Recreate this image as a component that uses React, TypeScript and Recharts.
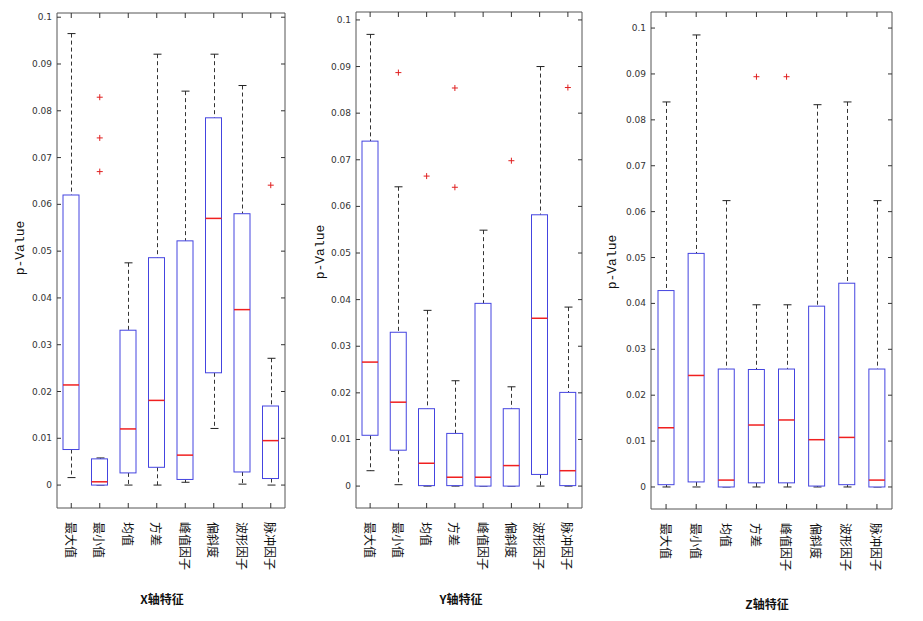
import { ComposedChart, Bar, Scatter, XAxis, YAxis, ReferenceArea } from "recharts"

const categories = ["最大值", "最小值", "均值", "方差", "峰值因子", "偏斜度", "波形因子", "脉冲因子"]
const yTicks = [0, 0.01, 0.02, 0.03, 0.04, 0.05, 0.06, 0.07, 0.08, 0.09, 0.1]

// X轴
const xLow = [0.0016, 0, 0, 0, 0.0006, 0.0121, 0.0002, 0]
const xQ1 = [0.0076, 0, 0.0026, 0.0038, 0.0012, 0.024, 0.0028, 0.0014]
const xMed = [0.0214, 0.0007, 0.012, 0.0181, 0.0064, 0.057, 0.0375, 0.0095]
const xQ3 = [0.062, 0.0056, 0.0331, 0.0486, 0.0522, 0.0785, 0.058, 0.0169]
const xHigh = [0.0965, 0.0058, 0.0475, 0.0921, 0.0842, 0.0921, 0.0854, 0.0271]
const xOutCat = ["最小值", "最小值", "最小值", "脉冲因子"]
const xOutVal = [0.0829, 0.0742, 0.067, 0.0641]

// Y轴
const yLow = [0.0033, 0.0003, 0, 0, 0, 0, 0, 0]
const yQ1 = [0.0109, 0.0077, 0.0001, 0.0001, 0, 0, 0.0025, 0.0001]
const yMed = [0.0266, 0.018, 0.0049, 0.0019, 0.0019, 0.0044, 0.036, 0.0033]
const yQ3 = [0.074, 0.033, 0.0166, 0.0113, 0.0392, 0.0166, 0.0582, 0.0201]
const yHigh = [0.0969, 0.0642, 0.0377, 0.0226, 0.0549, 0.0213, 0.09, 0.0384]
const yOutCat = ["最小值", "均值", "方差", "方差", "偏斜度", "脉冲因子"]
const yOutVal = [0.0887, 0.0665, 0.0854, 0.0641, 0.0698, 0.0855]

// Z轴
const zLow = [0, 0, 0, 0, 0, 0, 0, 0]
const zQ1 = [0.0005, 0.0011, 0, 0.0009, 0.0009, 0.0002, 0.0005, 0]
const zMed = [0.0129, 0.0243, 0.0015, 0.0135, 0.0146, 0.0103, 0.0108, 0.0015]
const zQ3 = [0.0428, 0.0509, 0.0257, 0.0256, 0.0257, 0.0394, 0.0444, 0.0257]
const zHigh = [0.0839, 0.0985, 0.0624, 0.0397, 0.0397, 0.0833, 0.0839, 0.0624]
const zOutCat = ["方差", "峰值因子"]
const zOutVal = [0.0894, 0.0894]

const buildRows = (lo: number[], q1: number[], med: number[], q3: number[], hi: number[]) =>
  categories.map((cat, i) => ({ cat, range: [lo[i], hi[i]], q1: q1[i], med: med[i], q3: q3[i] }))

const buildOutliers = (cats: string[], vals: number[]) => cats.map((cat, i) => ({ cat, v: vals[i] }))

const fmt = (v: number) => String(Number(v.toFixed(2)))

function BoxShape(props: any) {
  const { x, y, width, height, payload } = props
  const [lo, hi] = payload.range
  const py = (v: number) => y + (height * (hi - v)) / (hi - lo)
  const cx = Math.round(x + width / 2) + 0.5
  const top = py(payload.q3)
  const bot = py(payload.q1)
  const m = py(payload.med)
  return (
    <g>
      <line x1={cx} x2={cx} y1={y} y2={top} stroke="#333" strokeDasharray="4 3" />
      <line x1={cx} x2={cx} y1={bot} y2={y + height} stroke="#333" strokeDasharray="4 3" />
      <line x1={cx - 4} x2={cx + 4} y1={y} y2={y} stroke="#222" />
      <line x1={cx - 4} x2={cx + 4} y1={y + height} y2={y + height} stroke="#222" />
      <rect x={x} y={top} width={width} height={bot - top} fill="#fff" stroke="#4444e0" />
      <line x1={x} x2={x + width} y1={m} y2={m} stroke="#f02020" strokeWidth={1.5} />
    </g>
  )
}

function Plus(props: any) {
  const { cx, cy } = props
  return (
    <g stroke="#e02020">
      <line x1={cx - 3} x2={cx + 3} y1={cy} y2={cy} />
      <line x1={cx} x2={cx} y1={cy - 3} y2={cy + 3} />
    </g>
  )
}

function Panel(props: any) {
  const { left, width, yw, mr, mt, xh, domain, rows, outliers, title, tx, ty, lx, ly } = props
  const plotW = width - yw - mr
  const plotH = 621 - mt - xh
  return (
    <div style={{ position: "absolute", left, top: 0 }}>
      <ComposedChart width={width} height={621} data={rows} margin={{ top: mt, right: mr, bottom: 0, left: 0 }}>
        <ReferenceArea y1={domain[0]} y2={domain[1]} fill="none" stroke="#555" ifOverflow="visible" />
        <XAxis
          dataKey="cat"
          allowDuplicatedCategory={false}
          height={xh}
          tickSize={0}
          tickMargin={0}
          axisLine={false}
          interval={0}
          tick={(p: any) => (
            <g>
              <line x1={p.x} x2={p.x} y1={p.y} y2={p.y - 5} stroke="#333" />
              <line x1={p.x} x2={p.x} y1={p.y - plotH} y2={p.y - plotH + 5} stroke="#333" />
              <text
                transform={`translate(${p.x},${p.y + 14}) rotate(90)`}
                dominantBaseline="central"
                fontSize={12}
                fontFamily="'Noto Sans CJK SC'"
                fill="#111"
              >
                {p.payload.value}
              </text>
            </g>
          )}
          label={{
            content: () => (
              <text x={tx} y={ty} textAnchor="middle" dominantBaseline="central" fontSize={12} fontWeight="bold" fontFamily="'Noto Sans CJK SC'" fill="#111">
                {title}
              </text>
            ),
          }}
        />
        <YAxis
          type="number"
          domain={domain}
          allowDataOverflow
          ticks={yTicks}
          width={yw}
          tickSize={0}
          tickMargin={0}
          axisLine={false}
          tick={(p: any) => (
            <g>
              <line x1={p.x} x2={p.x + 4} y1={p.y} y2={p.y} stroke="#333" />
              <line x1={p.x + plotW} x2={p.x + plotW - 4} y1={p.y} y2={p.y} stroke="#333" />
              <text x={p.x - 5} y={p.y} textAnchor="end" dominantBaseline="central" fontSize={9} fontFamily="'DejaVu Sans'" fill="#333">
                {fmt(p.payload.value)}
              </text>
            </g>
          )}
          label={{
            content: () => (
              <text transform={`translate(${lx},${ly}) rotate(-90)`} textAnchor="middle" dominantBaseline="central" fontSize={13} fontFamily="'Liberation Mono', 'Courier New', monospace" fill="#111">
                p-Value
              </text>
            ),
          }}
        />
        <Bar dataKey="range" barSize={16} isAnimationActive={false} shape={(p: any) => <BoxShape {...p} />} />
        <Scatter data={outliers} dataKey="v" isAnimationActive={false} shape={(p: any) => <Plus {...p} />} />
      </ComposedChart>
    </div>
  )
}

export default function App() {
  return (
    <div style={{ position: "absolute", left: 0, top: 0, width: 923, height: 621, background: "#fff" }}>
      <Panel
        left={0} width={300} yw={57} mr={15} mt={13} xh={113}
        domain={[-0.0049, 0.1009]}
        rows={buildRows(xLow, xQ1, xMed, xQ3, xHigh)}
        outliers={buildOutliers(xOutCat, xOutVal)}
        title="X轴特征" tx={162} ty={598} lx={20} ly={248}
      />
      <Panel
        left={300} width={300} yw={56} mr={18} mt={12} xh={113}
        domain={[-0.0047, 0.1017]}
        rows={buildRows(yLow, yQ1, yMed, yQ3, yHigh)}
        outliers={buildOutliers(yOutCat, yOutVal)}
        title="Y轴特征" tx={161} ty={598} lx={20} ly={252}
      />
      <Panel
        left={600} width={310} yw={51} mr={18} mt={12} xh={112}
        domain={[-0.0048, 0.1035]}
        rows={buildRows(zLow, zQ1, zMed, zQ3, zHigh)}
        outliers={buildOutliers(zOutCat, zOutVal)}
        title="Z轴特征" tx={167} ty={603} lx={12} ly={262}
      />
    </div>
  )
}
